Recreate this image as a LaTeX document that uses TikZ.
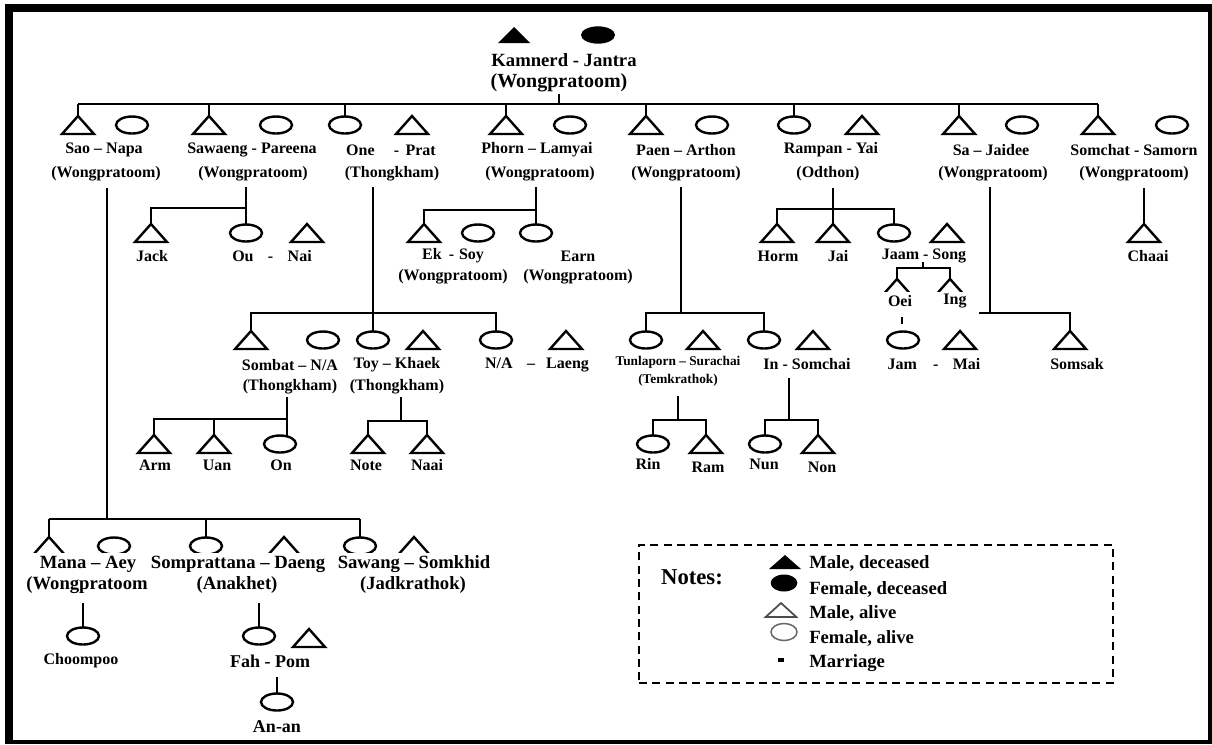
\documentclass[tikz,border=0pt]{standalone}
\usepackage{fontspec}
\setmainfont{Liberation Serif}
\usetikzlibrary{shapes.geometric}
\begin{document}
\begin{tikzpicture}[x=0.75pt,y=-0.75pt,
  fem/.style={ellipse,draw,line width=1.8pt,minimum width=24pt,minimum height=12.75pt,inner sep=0pt,outer sep=0pt},
  mal/.style={rectangle,minimum width=24pt,minimum height=13.5pt,inner sep=0pt,outer sep=0pt},
  tri/.style={line width=1.8pt,line join=miter},
  conn/.style={line width=1.5pt},
  lab/.style={font=\bfseries\fontsize{12}{13}\selectfont,inner sep=1pt},
  labL/.style={font=\bfseries\fontsize{14}{15}\selectfont,inner sep=1pt},
  labS/.style={font=\bfseries\fontsize{10}{11}\selectfont,inner sep=1pt},
]
\useasboundingbox (0,0) rectangle (1212,744);
\fill[black] (5,4) rectangle (1212,744);
\fill[white] (13,12) rectangle (1208,740);

% ---------- founders
\node[mal,minimum height=12pt] (kam) at (514,35) {};
\fill (kam.south west) -- (kam.north) -- (kam.south east) -- cycle;
\node[ellipse,fill,minimum width=25.5pt,minimum height=13pt,inner sep=0pt] (jan) at (598,35) {};
\node[font=\bfseries\fontsize{14}{15}\selectfont,inner sep=1pt] (kamL) at (564,60) {Kamnerd - Jantra};
\node[font=\bfseries\fontsize{15}{16}\selectfont,inner sep=1pt] (kamW) at (559,83) {(Wongpratoom)};

% ---------- row 1
\node[mal] (sao) at (78,125) {};
\node[fem] (napa) at (132,125) {};
\node[mal] (sawaeng) at (209,125) {};
\node[fem] (pareena) at (276,125) {};
\node[fem] (one) at (345,125) {};
\node[mal] (prat) at (412,125) {};
\node[mal] (phorn) at (506,125) {};
\node[fem] (lamyai) at (570,125) {};
\node[mal] (paen) at (646,125) {};
\node[fem] (arthon) at (712,125) {};
\node[fem] (rampan) at (794,125) {};
\node[mal] (yai) at (862,125) {};
\node[mal] (sa) at (959,125) {};
\node[fem] (jaidee) at (1022,125) {};
\node[mal] (somchat) at (1098,125) {};
\node[fem] (samorn) at (1172,125) {};

\node[lab] (saoL) at (104,150) {Sao – Napa};
\node[lab] (saoW) at (106,174) {(Wongpratoom)};
\node[lab] (sawL) at (252,150) {Sawaeng - Pareena};
\node[lab] (sawW) at (253,174) {(Wongpratoom)};
\node[lab] (oneL) at (391,150) {One\hspace{1.2em}-\hspace{0.4em}Prat};
\node[lab] (oneW) at (392,174) {(Thongkham)};
\node[lab] (phoL) at (537,150) {Phorn – Lamyai};
\node[lab] (phoW) at (540,174) {(Wongpratoom)};
\node[lab] (paeL) at (686,150) {Paen – Arthon};
\node[lab] (paeW) at (686,174) {(Wongpratoom)};
\node[lab] (ramL) at (831,150) {Rampan - Yai};
\node[lab] (ramW) at (828,174) {(Odthon)};
\node[lab] (saL) at (991,150) {Sa – Jaidee};
\node[lab] (saW) at (993,174) {(Wongpratoom)};
\node[lab] (somL) at (1134,150) {Somchat - Samorn};
\node[lab] (somW) at (1134,174) {(Wongpratoom)};

% ---------- row 2
\node[mal] (jack) at (151,233) {};
\node[fem] (ou) at (246,233) {};
\node[mal] (nai) at (307,233) {};
\node[mal] (ek) at (424,233) {};
\node[fem] (soy) at (478,233) {};
\node[fem] (earn) at (536,233) {};
\node[mal] (horm) at (777,233) {};
\node[mal] (jai) at (833,233) {};
\node[fem] (jaam) at (894,233) {};
\node[mal] (song) at (947,233) {};
\node[mal] (chaai) at (1144,233) {};

\node[lab] (jackL) at (152,256) {Jack};
\node[lab] (ouL) at (272,256) {Ou\hspace{0.9em}-\hspace{0.9em}Nai};
\node[lab] (ekL) at (453,256) {Ek\hspace{0.45em}-\hspace{0.3em}Soy};
\node[lab] (ekW) at (453,277) {(Wongpratoom)};
\node[lab] (earnL) at (578,256) {Earn};
\node[lab] (earnW) at (578,277) {(Wongpratoom)};
\node[lab] (hormL) at (778,256) {Horm};
\node[lab] (jaiL) at (838,256) {Jai};
\node[lab] (jaamL) at (924,256) {Jaam - Song};
\node[lab] (chaaiL) at (1148,256) {Chaai};

% ---------- Oei / Ing (only the tops of their triangles show)
\node[mal] (oei) at (897,288) {};
\node[mal] (ing) at (950,288) {};
\begin{scope}
  \clip (850,260) rectangle (1000,291.5);
  \foreach \n in {oei,ing}
    \draw[tri] (\n.south west) -- (\n.north) -- (\n.south east) -- cycle;
\end{scope}
\node[lab] (oeiL) at (900,301) {Oei};
\node[lab] (ingL) at (955,301) {Ing};

% ---------- row 3
\node[mal] (sombat) at (251,340) {};
\node[fem] (sombatw) at (323,340) {};
\node[fem] (toy) at (373,340) {};
\node[mal] (khaek) at (423,340) {};
\node[fem] (nafem) at (496,340) {};
\node[mal] (laeng) at (566,340) {};
\node[fem] (tunla) at (646,340) {};
\node[mal] (surachai) at (703,340) {};
\node[fem] (inn) at (764,340) {};
\node[mal] (somchai) at (813,340) {};
\node[fem] (jam) at (903,340) {};
\node[mal] (mai) at (960,340) {};
\node[mal] (somsak) at (1070,340) {};

\node[lab] (sombatL) at (290,365) {Sombat – N/A};
\node[lab] (sombatW) at (290,387) {(Thongkham)};
\node[lab] (toyL) at (397,365) {Toy – Khaek};
\node[lab] (toyW) at (397,387) {(Thongkham)};
\node[lab] (naL) at (537,365) {N/A\hspace{0.9em}–\hspace{0.7em}Laeng};
\node[labS] (tunlaL) at (678,362) {Tunlaporn – Surachai};
\node[labS] (tunlaW) at (678,380) {(Temkrathok)};
\node[lab] (innL) at (807,364) {In - Somchai};
\node[lab] (jamL) at (934,364) {Jam\hspace{1em}-\hspace{0.9em}Mai};
\node[lab] (somsakL) at (1077,364) {Somsak};

% ---------- row 4
\node[mal] (arm) at (154,444) {};
\node[mal] (uan) at (214,444) {};
\node[fem] (onn) at (280,444) {};
\node[mal] (note) at (368,444) {};
\node[mal] (naai) at (427,444) {};
\node[fem] (rin) at (653,444) {};
\node[mal] (ram) at (706,444) {};
\node[fem] (nun) at (765,444) {};
\node[mal] (non) at (818,444) {};

\node[lab] (armL) at (155,465) {Arm};
\node[lab] (uanL) at (217,465) {Uan};
\node[lab] (onnL) at (281,465) {On};
\node[lab] (noteL) at (366,465) {Note};
\node[lab] (naaiL) at (427,465) {Naai};
\node[lab] (rinL) at (648,464) {Rin};
\node[lab] (ramL2) at (708,467) {Ram};
\node[lab] (nunL) at (764,464) {Nun};
\node[lab] (nonL) at (822,467) {Non};

% ---------- row 5 (bottoms cut off by the labels)
\node[mal] (mana) at (49,546) {};
\node[mal] (daeng) at (284,546) {};
\node[mal] (somkhid) at (414,546) {};
\begin{scope}
  \clip (20,525) rectangle (450,552.5);
  \node[fem] (aey) at (114,546) {};
  \node[fem] (sompr) at (206,546) {};
  \node[fem] (sawang) at (360,546) {};
  \foreach \n in {mana,daeng,somkhid}
    \draw[tri] (\n.south west) -- (\n.north) -- (\n.south east) -- cycle;
\end{scope}
\node[labL] (manaL) at (88,564) {Mana – Aey};
\node[labL] (sprL) at (238,564) {Somprattana – Daeng};
\node[labL] (sawangL) at (414,564) {Sawang – Somkhid};
\node[labL] (manaW) at (87,585) {(Wongpratoom};
\node[labL] (sprW) at (237,585) {(Anakhet)};
\node[labL] (sawangW) at (413,585) {(Jadkrathok)};

% ---------- row 6
\node[fem] (choompoo) at (83,636) {};
\node[fem] (fah) at (259,636) {};
\node[mal] (pom) at (309,638) {};
\node[fem] (anan) at (277,702) {};
\node[lab] (choompooL) at (81,661) {Choompoo};
\node[font=\bfseries\fontsize{13.5}{14}\selectfont,inner sep=1pt] (fahL) at (270,661) {Fah - Pom};
\node[font=\bfseries\fontsize{13.5}{14}\selectfont,inner sep=1pt] (ananL) at (277,727) {An-an};

% ---------- triangles for the other males
\foreach \n in {sao,sawaeng,prat,phorn,paen,yai,sa,somchat,jack,nai,ek,horm,jai,song,chaai,sombat,khaek,laeng,surachai,somchai,mai,somsak,arm,uan,note,naai,ram,non,pom}
  \draw[tri] (\n.south west) -- (\n.north) -- (\n.south east) -- cycle;

% ---------- connectors
\coordinate (barL) at (78,104);
\coordinate (kamD) at (559,94);
\draw[conn] (kamD) -- (kamD |- barL);
\draw[conn] (sao.north |- barL) -- (somchat.north |- barL);
\foreach \n in {sao,sawaeng,one,phorn,paen,rampan,sa,somchat}
  \draw[conn] (\n.north) -- (\n.north |- barL);

% Sao
\coordinate (saoD) at (107,188);
\coordinate (saoB) at (107,519);
\draw[conn] (saoD) -- (saoB);
\draw[conn] (mana.north |- saoB) -- (sawang.north |- saoB);
\foreach \n in {mana,sompr,sawang}
  \draw[conn] (\n.north) -- (\n.north |- saoB);

% Sawaeng
\coordinate (sawD) at (246,187);
\coordinate (sawB) at (246,208);
\draw[conn] (sawD) -- (ou.north);
\draw[conn] (jack.north) -- (jack.north |- sawB) -- (sawB);

% One
\coordinate (oneD) at (373,187);
\coordinate (oneB) at (373,313);
\draw[conn] (oneD) -- (toy.north);
\draw[conn] (sombat.north) -- (sombat.north |- oneB) -- (nafem.north |- oneB) -- (nafem.north);

% Phorn
\coordinate (phoD) at (536,187);
\coordinate (phoB) at (536,210);
\draw[conn] (phoD) -- (earn.north);
\draw[conn] (ek.north) -- (ek.north |- phoB) -- (phoB);

% Paen
\coordinate (paeD) at (681,187);
\coordinate (paeB) at (681,313);
\draw[conn] (paeD) -- (paeB);
\draw[conn] (tunla.north) -- (tunla.north |- paeB) -- (inn.north |- paeB) -- (inn.north);

% Rampan
\coordinate (ramD) at (833,188);
\coordinate (ramB) at (833,209);
\draw[conn] (ramD) -- (jai.north);
\draw[conn] (horm.north) -- (horm.north |- ramB) -- (jaam.north |- ramB) -- (jaam.north);

% Jaam - Song
\coordinate (jsT) at (923,262);
\coordinate (jsB) at (923,268);
\draw[conn] (jsT) -- (jsB);
\draw[conn] (oei.north) -- (oei.north |- jsB) -- (ing.north |- jsB) -- (ing.north);
\coordinate (oeiT) at (902,317);
\coordinate (oeiB) at (902,324);
\draw[conn] (oeiT) -- (oeiB);

% Sa
\coordinate (saD) at (990,187);
\coordinate (saB) at (990,313);
\coordinate (saBL) at (979,313);
\draw[conn] (saD) -- (saB);
\draw[conn] (saBL) -- (somsak.north |- saB) -- (somsak.north);

% Somchat
\coordinate (somD) at (1144,188);
\draw[conn] (somD) -- (chaai.north);

% Sombat
\coordinate (sbD) at (287,397);
\coordinate (sbB) at (287,419);
\draw[conn] (sbD) -- (sbD |- onn.north);
\draw[conn] (arm.north) -- (arm.north |- sbB) -- (sbB);
\draw[conn] (uan.north) -- (uan.north |- sbB);

% Toy
\coordinate (toyD) at (401,397);
\coordinate (toyB) at (401,421);
\draw[conn] (toyD) -- (toyB);
\draw[conn] (note.north) -- (note.north |- toyB) -- (naai.north |- toyB) -- (naai.north);

% Tunlaporn
\coordinate (tuD) at (678,396);
\coordinate (tuB) at (678,420);
\draw[conn] (tuD) -- (tuB);
\draw[conn] (rin.north) -- (rin.north |- tuB) -- (ram.north |- tuB) -- (ram.north);

% In
\coordinate (inD) at (789,378);
\coordinate (inB) at (789,420);
\draw[conn] (inD) -- (inB);
\draw[conn] (nun.north) -- (nun.north |- inB) -- (non.north |- inB) -- (non.north);

% Mana, Somprattana, Fah
\coordinate (manaD) at (83,603);
\draw[conn] (manaD) -- (choompoo.north);
\coordinate (spD) at (259,603);
\draw[conn] (spD) -- (fah.north);
\coordinate (fahD) at (277,677);
\draw[conn] (fahD) -- (anan.north);

% ---------- legend
\node[draw,line width=1.6pt,dash pattern=on 6pt off 4pt,minimum width=355.5pt,minimum height=103.5pt,inner sep=0pt] (legend) at (876,614) {};
\node[font=\bfseries\fontsize{17}{18}\selectfont,inner sep=0pt] (notes) at (692,577) {Notes:};
\node[mal,minimum height=10.5pt] (lgm) at (785,562) {};
\fill (lgm.south west) -- (lgm.north) -- (lgm.south east) -- cycle;
\node[ellipse,fill,minimum width=20pt,minimum height=12.75pt,inner sep=0pt] (lgf) at (784,583) {};
\node[mal,minimum height=10.5pt,minimum width=23pt] (lgma) at (781,610) {};
\draw[line width=1.3pt,draw=black!70,line join=miter] (lgma.south west) -- (lgma.north) -- (lgma.south east) -- cycle;
\node[ellipse,draw=black!60,line width=1.1pt,minimum width=19.5pt,minimum height=12.75pt,inner sep=0pt] (lgfa) at (784,632) {};
\node[rectangle,fill,minimum width=5pt,minimum height=3pt,inner sep=0pt] (lgmar) at (781,660) {};
\node[labL,anchor=west,inner sep=0pt] (t1) at (809,563) {Male, deceased};
\node[labL,anchor=west,inner sep=0pt] (t2) at (809,589) {Female, deceased};
\node[labL,anchor=west,inner sep=0pt] (t3) at (809,613) {Male, alive};
\node[labL,anchor=west,inner sep=0pt] (t4) at (809,638) {Female, alive};
\node[labL,anchor=west,inner sep=0pt] (t5) at (809,663) {Marriage};
\end{tikzpicture}
\end{document}
